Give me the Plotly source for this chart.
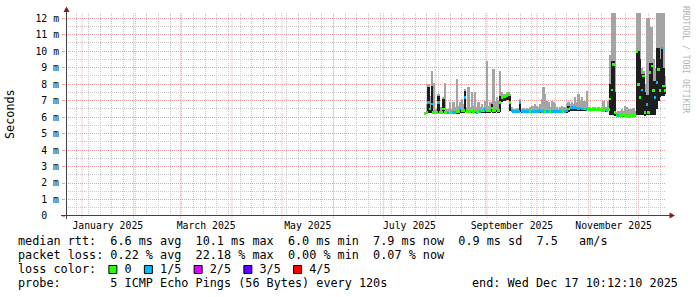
import plotly.graph_objects as go
import pandas as pd

# ---------------- data ----------------
END_TIME = "2025-12-17 10:12:10"
SPAN_DAYS = 360
FIRST_DAY = "2025-07-26"

# median rtt (ms), one value per day
median_ms = [
    6.20, 6.30, 6.90, 6.50, 6.80, 6.30, 6.30, 6.30, 6.90, 6.30,
    6.30, 6.50, 6.30, 6.30, 6.25, 6.30, 6.30, 6.30, 6.30, 6.35,
    6.35, 6.50, 6.40, 6.40, 7.20, 6.35, 6.35, 6.35, 6.40, 6.35,
    6.40, 6.30, 6.35, 6.35, 6.40, 6.40, 6.45, 6.40, 6.40, 6.40,
    6.55, 6.40, 6.40, 6.50, 6.40, 6.90, 7.20, 7.25, 7.25, 7.30,
    7.35, 6.90, 6.40, 6.35, 6.35, 6.35, 6.35, 6.90, 6.40, 6.35,
    6.35, 6.35, 6.35, 6.35, 6.35, 6.35, 6.35, 6.35, 6.35, 6.40,
    6.35, 6.35, 6.35, 6.35, 6.35, 6.35, 6.35, 6.35, 6.35, 6.35,
    6.35, 6.35, 6.35, 6.35, 6.35, 6.40, 6.50, 6.55, 6.60, 6.60,
    6.60, 6.55, 6.50, 6.55, 6.50, 6.50, 6.50, 6.45, 6.45, 6.45,
    6.45, 6.45, 6.45, 6.45, 6.45, 6.45, 6.40, 6.40, 6.45, 6.40,
    6.45, 7.10, 7.65, 9.20, 6.30, 6.10, 6.10, 6.10, 6.10, 6.15,
    6.10, 6.10, 6.05, 6.10, 6.10, 6.10, 6.10, 10.00, 8.00, 7.20,
    7.65, 8.50, 6.30, 6.75, 6.30, 8.70, 9.10, 7.60, 7.20, 8.10,
    8.90, 7.60, 10.20, 7.90, 7.60,
]
# lowest of the five pings (ms)
min_ms = [
    6.15, 6.20, 6.25, 6.25, 6.25, 6.20, 6.20, 6.20, 6.25, 6.20,
    6.20, 6.25, 6.20, 6.20, 6.20, 6.20, 6.20, 6.20, 6.20, 6.20,
    6.20, 6.25, 6.25, 6.25, 6.30, 6.25, 6.25, 6.25, 6.25, 6.25,
    6.25, 6.20, 6.25, 6.25, 6.25, 6.25, 6.25, 6.25, 6.25, 6.25,
    6.30, 6.25, 6.25, 6.30, 6.25, 6.30, 6.90, 7.00, 7.00, 7.05,
    7.05, 6.35, 6.30, 6.25, 6.25, 6.25, 6.25, 6.30, 6.25, 6.25,
    6.25, 6.25, 6.25, 6.25, 6.25, 6.25, 6.25, 6.25, 6.25, 6.25,
    6.25, 6.25, 6.25, 6.25, 6.25, 6.25, 6.25, 6.25, 6.25, 6.25,
    6.25, 6.25, 6.25, 6.25, 6.25, 6.25, 6.30, 6.35, 6.40, 6.40,
    6.40, 6.40, 6.35, 6.40, 6.35, 6.35, 6.35, 6.35, 6.35, 6.35,
    6.35, 6.35, 6.35, 6.35, 6.35, 6.35, 6.30, 6.30, 6.30, 6.30,
    6.35, 6.10, 6.10, 6.10, 6.05, 6.00, 6.00, 6.00, 6.00, 6.00,
    6.00, 6.00, 5.95, 6.00, 6.00, 6.00, 6.00, 6.10, 6.10, 6.10,
    6.10, 6.10, 6.05, 6.10, 6.10, 6.10, 6.10, 6.10, 6.10, 6.50,
    7.00, 7.20, 7.30, 7.30, 7.40,
]
# fourth of the five pings (ms) - inner smoke top
p4_ms = [
    6.25, 6.35, 7.80, 6.55, 7.90, 6.35, 6.35, 6.35, 7.30, 6.35,
    6.35, 7.10, 6.35, 6.35, 6.30, 6.35, 6.35, 6.35, 6.35, 6.40,
    6.40, 6.55, 6.45, 6.45, 7.60, 6.40, 6.40, 6.40, 6.45, 6.40,
    6.45, 6.35, 6.40, 6.40, 6.45, 6.45, 6.50, 6.45, 6.45, 6.45,
    6.80, 6.45, 6.45, 6.55, 6.45, 7.30, 7.25, 7.30, 7.30, 7.35,
    7.40, 7.30, 6.45, 6.40, 6.40, 6.40, 6.40, 7.00, 6.45, 6.40,
    6.40, 6.40, 6.40, 6.40, 6.40, 6.40, 6.40, 6.40, 6.40, 6.45,
    6.40, 6.40, 6.40, 6.40, 6.40, 6.40, 6.40, 6.40, 6.40, 6.40,
    6.40, 6.40, 6.40, 6.40, 6.40, 6.45, 6.70, 6.60, 6.65, 6.65,
    6.65, 6.60, 6.55, 6.60, 6.55, 6.55, 6.55, 6.50, 6.50, 6.50,
    6.50, 6.50, 6.50, 6.50, 6.50, 6.50, 6.45, 6.45, 6.50, 6.45,
    6.50, 8.00, 9.40, 9.40, 7.50, 6.15, 6.15, 6.15, 6.15, 6.20,
    6.15, 6.15, 6.10, 6.15, 6.15, 6.15, 6.15, 10.00, 10.00, 9.50,
    8.60, 8.60, 7.50, 7.35, 7.35, 9.30, 9.30, 8.20, 8.20, 10.20,
    10.20, 9.50, 10.20, 9.00, 7.80,
]
# highest of the five pings (ms) - outer smoke top
max_ms = [
    6.30, 6.80, 8.00, 7.30, 8.80, 8.10, 6.50, 6.50, 7.40, 6.60,
    6.60, 7.20, 8.10, 6.50, 6.50, 6.90, 6.50, 6.90, 6.60, 8.30,
    6.70, 6.90, 7.10, 6.80, 7.70, 6.60, 7.80, 6.60, 7.50, 6.70,
    7.50, 6.60, 6.90, 6.60, 6.80, 6.60, 7.00, 9.40, 6.70, 6.90,
    6.90, 8.90, 7.00, 7.20, 7.00, 8.80, 7.50, 7.40, 7.40, 7.45,
    7.50, 7.40, 6.60, 6.50, 6.50, 6.55, 6.50, 7.10, 6.50, 6.55,
    6.50, 6.55, 6.50, 6.60, 6.70, 6.70, 6.80, 6.70, 6.60, 6.80,
    7.10, 7.80, 7.40, 7.00, 6.90, 6.60, 7.00, 6.90, 6.80, 6.60,
    6.50, 6.60, 6.70, 6.60, 6.60, 6.80, 6.90, 6.80, 6.90, 6.80,
    7.20, 6.90, 7.40, 7.00, 7.20, 6.95, 7.00, 7.60, 6.60, 6.60,
    6.55, 6.60, 6.60, 6.55, 6.60, 6.55, 6.60, 7.00, 6.60, 6.60,
    7.00, 9.80, 12.40, 12.40, 12.40, 6.30, 6.40, 6.40, 6.50, 6.40,
    6.70, 6.60, 6.50, 6.50, 6.50, 6.55, 6.40, 12.40, 12.40, 12.40,
    9.00, 8.80, 8.00, 12.00, 12.00, 11.50, 11.50, 9.50, 9.00, 12.40,
    12.40, 12.40, 12.40, 12.40, 8.50,
]
# lost pings out of 5
loss = [
    0, 0, 1, 0, 1, 0, 0, 0, 1, 0,
    0, 0, 0, 0, 1, 0, 0, 1, 1, 0,
    0, 1, 0, 0, 1, 0, 0, 0, 0, 0,
    0, 1, 0, 1, 0, 0, 1, 0, 0, 0,
    0, 0, 0, 0, 0, 0, 0, 0, 0, 0,
    0, 0, 1, 1, 1, 1, 1, 1, 0, 1,
    1, 1, 1, 0, 1, 1, 1, 1, 1, 1,
    1, 1, 0, 1, 1, 0, 1, 1, 1, 1,
    1, 1, 1, 0, 1, 1, 0, 1, 1, 1,
    1, 1, 1, 1, 1, 1, 0, 1, 0, 0,
    0, 0, 0, 0, 0, 0, 0, 0, 0, 1,
    0, 0, 0, 0, 0, 0, 1, 0, 0, 0,
    0, 0, 0, 0, 0, 0, 0, 0, 0, 0,
    1, 0, 0, 1, 0, 0, 0, 0, 1, 1,
    0, 0, 1, 0, 0,
]

loss_colors = ["#26ff00", "#00b8ff", "#dd00ff", "#5e00ff", "#ff0000"]
loss_labels = ["0", "1/5", "2/5", "3/5", "4/5"]

label_months = ["2025-01-01", "2025-03-01", "2025-05-01", "2025-07-01", "2025-09-01", "2025-11-01"]
label_texts = ["January 2025", "March 2025", "May 2025", "July 2025", "September 2025", "November 2025"]

y_ticks = list(range(0, 13))
y_texts = ["0\u00a0\u00a0"] + [f"{v} m" for v in range(1, 13)]

stat_lines = [
    "median rtt:  6.6 ms avg  10.1 ms max  6.0 ms min  7.9 ms now  0.9 ms sd  7.5   am/s",
    "packet loss: 0.22 % avg  22.18 % max  0.00 % min  0.07 % now",
]
probe_line = "probe:       5 ICMP Echo Pings (56 Bytes) every 120s"
end_text = "end: Wed Dec 17 10:12:10 2025"

# ---------------- geometry / style ----------------
W, H = 697, 297
L, R, T, B = 66, 31, 13, 81
PW, PH = W - L - R, H - T - B
Y_MAX = 12.32
MONO = "DejaVu Sans Mono"
FS_LEG = 11.8
FS_AX = 9.8
CW = 0.6021 * FS_LEG
MAJOR = "#eaa0a0"
MINOR = "#c8c8c8"
ARROW = "#8b1a1a"
AXIS = "#404040"

def px(xp):
    return (xp - L) / PW

def py(yp):
    return (T + PH - yp) / PH

# loss colour legend line, with blank cells where the colour boxes go
loss_line = "loss color:  "
box_cols = []
for k, lbl in enumerate(loss_labels):
    box_cols.append(len(loss_line))
    loss_line += "  " + lbl
    if k < len(loss_labels) - 1:
        loss_line += "  "

end_t = pd.Timestamp(END_TIME)
start_t = end_t - pd.Timedelta(days=SPAN_DAYS)
dates = pd.date_range(FIRST_DAY, periods=len(median_ms), freq="D")
DAY_MS = 86400000

fig = go.Figure()
fig.add_trace(go.Bar(
    x=dates, base=min_ms, y=[h - l for h, l in zip(max_ms, min_ms)],
    width=DAY_MS * 1.05, marker=dict(color="#a4a4a4", line=dict(width=0)),
    hoverinfo="skip", showlegend=False))
fig.add_trace(go.Bar(
    x=dates, base=min_ms, y=[h - l for h, l in zip(p4_ms, min_ms)],
    width=DAY_MS * 1.05, marker=dict(color="#1e1e1e", line=dict(width=0)),
    hoverinfo="skip", showlegend=False))
fig.add_trace(go.Bar(
    x=dates, base=[m - 0.08 for m in median_ms], y=[0.16] * len(median_ms),
    width=DAY_MS * 1.05,
    marker=dict(color=[loss_colors[k] for k in loss], line=dict(width=0)),
    hoverinfo="skip", showlegend=False))

# month grid lines (major)
month_starts = pd.date_range("2025-01-01", "2025-12-01", freq="MS")
shapes = []
for m in month_starts:
    shapes.append(dict(type="line", xref="x", yref="paper", x0=m, x1=m, y0=-0.012, y1=1,
                       line=dict(color=MAJOR, width=1, dash="1px,1px"), layer="below"))

# axes with arrows
shapes.append(dict(type="line", xref="paper", yref="paper", x0=px(61), x1=px(671),
                   y0=py(215.5), y1=py(215.5), line=dict(color=AXIS, width=1)))
shapes.append(dict(type="line", xref="paper", yref="paper", x0=px(66.5), x1=px(66.5),
                   y0=py(219), y1=py(11), line=dict(color=AXIS, width=1)))
shapes.append(dict(type="path", xref="paper", yref="paper",
                   path=f"M{px(63.5)},{py(12)} L{px(69.5)},{py(12)} L{px(66.5)},{py(6.5)} Z",
                   fillcolor=ARROW, line=dict(color=ARROW, width=0)))
shapes.append(dict(type="path", xref="paper", yref="paper",
                   path=f"M{px(669.5)},{py(212.5)} L{px(669.5)},{py(218.5)} L{px(675)},{py(215.5)} Z",
                   fillcolor=ARROW, line=dict(color=ARROW, width=0)))

# legend colour boxes
for col_idx, col in zip(box_cols, loss_colors):
    cx0 = 16 + col_idx * CW
    shapes.append(dict(type="rect", xref="paper", yref="paper",
                       x0=px(cx0 + 0.5), x1=px(cx0 + 8.5), y0=py(273.5), y1=py(265.5),
                       fillcolor=col, line=dict(color="#000000", width=1)))

annotations = []
for txt, yy in zip(stat_lines + [loss_line, probe_line], [241, 255, 269, 283]):
    annotations.append(dict(text=txt.replace(" ", "\u00a0"), xref="paper", yref="paper",
                            x=px(16), y=py(yy), xanchor="left", yanchor="middle",
                            showarrow=False, font=dict(family=MONO, size=FS_LEG, color="#000000")))
annotations.append(dict(text=end_text.replace(" ", "\u00a0"), xref="paper", yref="paper",
                        x=px(680), y=py(283), xanchor="right", yanchor="middle",
                        showarrow=False, font=dict(family=MONO, size=FS_LEG, color="#000000")))
annotations.append(dict(text="Seconds", xref="paper", yref="paper", x=px(10), y=py(114),
                        xanchor="center", yanchor="middle", textangle=-90, showarrow=False,
                        font=dict(family=MONO, size=FS_LEG, color="#000000")))
annotations.append(dict(text="RRDTOOL\u00a0/\u00a0TOBI\u00a0OETIKER", xref="paper", yref="paper",
                        x=px(686), y=py(59), xanchor="center", yanchor="middle", textangle=90,
                        showarrow=False, font=dict(family=MONO, size=8.1, color="#b4b4b4")))

label_mid = []
for m in label_months:
    s = pd.Timestamp(m)
    e = s + pd.offsets.MonthBegin(1)
    label_mid.append(s + (e - s) / 2)

fig.update_layout(
    width=W, height=H, margin=dict(l=L, r=R, t=T, b=B, autoexpand=False),
    paper_bgcolor="#ffffff", plot_bgcolor="#ffffff",
    barmode="overlay", bargap=0, showlegend=False,
    shapes=shapes, annotations=annotations,
    xaxis=dict(type="date", range=[start_t, end_t], tickmode="array", tickvals=label_mid,
               ticktext=label_texts, showgrid=False, zeroline=False, showline=False,
               ticks="", ticklabelstandoff=2,
               tickfont=dict(family=MONO, size=FS_AX, color="#000000"),
               minor=dict(showgrid=True, gridcolor=MINOR, griddash="1px,1px", gridwidth=1,
                          tick0="2024-12-22", dtick=7 * DAY_MS)),
    yaxis=dict(range=[0, Y_MAX], tickmode="array", tickvals=y_ticks, ticktext=y_texts,
               showgrid=True, gridcolor=MAJOR, griddash="1px,1px", gridwidth=1,
               zeroline=False, showline=False, ticks="outside", ticklen=3, tickcolor=MAJOR,
               ticklabelstandoff=1,
               tickfont=dict(family=MONO, size=FS_AX, color="#000000"),
               minor=dict(showgrid=True, gridcolor=MINOR, griddash="1px,1px", gridwidth=1,
                          tick0=0.5, dtick=1)),
)

fig.write_html("out.html")
